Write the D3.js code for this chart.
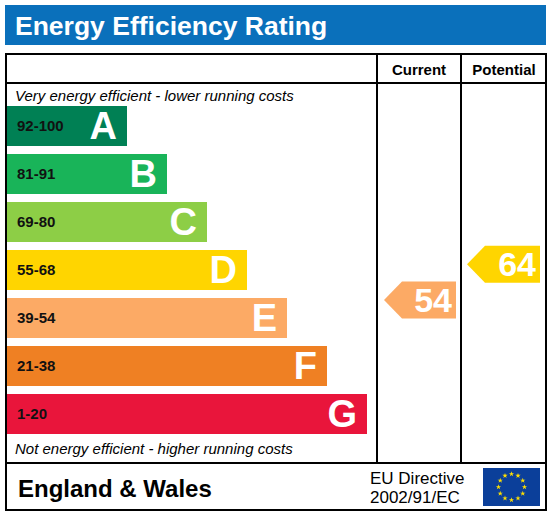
<!DOCTYPE html><html><head><meta charset="utf-8"><script src="https://cdn.jsdelivr.net/npm/d3@7"></script>
<style>body{margin:0;background:#fff}</style></head><body><svg id="c" width="550" height="517"></svg>
<script>
const bands=["A","B","C","D","E","F","G"];
const ranges=["92-100","81-91","69-80","55-68","39-54","21-38","1-20"];
const lows=[92,81,69,55,39,21,1];
const highs=[100,91,80,68,54,38,20];
const colors=["#008054","#19b459","#8dce46","#ffd500","#fcaa65","#ef8023","#e9153b"];
const currentValue=54, currentBand="E";
const potentialValue=64, potentialBand="D";
const svg=d3.select("#c");
const F="Liberation Sans, Arial, sans-serif";
svg.append("rect").attr("x",5).attr("y",5).attr("width",541).attr("height",40).attr("fill","#0a70bb");
svg.append("text").attr("x",15).attr("y",35).attr("fill","#fff").attr("font-family",F).attr("font-weight","bold").attr("font-size",26.5).text("Energy Efficiency Rating");
const g=svg.append("g").attr("stroke","#000").attr("stroke-width",2).attr("fill","none");
g.append("rect").attr("x",6).attr("y",54).attr("width",540).attr("height",456);
g.append("line").attr("x1",6).attr("x2",546).attr("y1",83).attr("y2",83);
g.append("line").attr("x1",6).attr("x2",546).attr("y1",463).attr("y2",463);
g.append("line").attr("x1",377).attr("x2",377).attr("y1",54).attr("y2",463);
g.append("line").attr("x1",461).attr("x2",461).attr("y1",54).attr("y2",463);
svg.append("text").attr("x",419).attr("y",75).attr("text-anchor","middle").attr("font-family",F).attr("font-weight","bold").attr("font-size",15).text("Current");
svg.append("text").attr("x",504).attr("y",75).attr("text-anchor","middle").attr("font-family",F).attr("font-weight","bold").attr("font-size",15).text("Potential");
svg.append("text").attr("x",15).attr("y",101).attr("font-family",F).attr("font-style","italic").attr("font-size",15).text("Very energy efficient - lower running costs");
svg.append("text").attr("x",15).attr("y",454).attr("font-family",F).attr("font-style","italic").attr("font-size",15).text("Not energy efficient - higher running costs");
const y=d3.scaleBand().domain(bands).range([106,434]).paddingInner(8/48).paddingOuter(0);
const w=d3.scaleLinear().domain([0,6]).range([120,360]);
bands.forEach((b,i)=>{
 svg.append("rect").attr("x",7).attr("y",y(b)).attr("width",w(i)).attr("height",y.bandwidth()).attr("fill",colors[i]);
 svg.append("text").attr("x",17).attr("y",y(b)+y.bandwidth()/2+5).attr("font-family",F).attr("font-weight","bold").attr("font-size",15).attr("fill","#111").text(ranges[i]);
 svg.append("text").attr("x",7+w(i)-10).attr("y",y(b)+y.bandwidth()/2+13).attr("text-anchor","end").attr("font-family",F).attr("font-weight","bold").attr("font-size",38).attr("fill","#fff").text(b);
});
function arrow(val,band,x0,x1){
 const i=bands.indexOf(band), h=37;
 const yc=y(band)+y.bandwidth()-(val-lows[i])/(highs[i]-lows[i])*y.bandwidth()+2, t=yc-h/2;
 svg.append("path").attr("d",`M${x0},${yc} L${x0+18},${t} L${x1},${t} L${x1},${t+h} L${x0+18},${t+h} Z`).attr("fill",colors[i]);
 svg.append("text").attr("x",x1-4).attr("y",yc+12).attr("text-anchor","end").attr("font-family",F).attr("font-weight","bold").attr("font-size",34).attr("fill","#fff").text(val);
}
arrow(currentValue,currentBand,384,456);
arrow(potentialValue,potentialBand,467,540);
svg.append("text").attr("x",18).attr("y",497).attr("font-family",F).attr("font-weight","bold").attr("font-size",24).text("England & Wales");
svg.append("text").attr("x",370).attr("y",484).attr("font-family",F).attr("font-size",17).text("EU Directive");
svg.append("text").attr("x",370).attr("y",503).attr("font-family",F).attr("font-size",17).text("2002/91/EC");
svg.append("rect").attr("x",483).attr("y",468).attr("width",57).attr("height",38).attr("fill","#0b3f9a");
const star=d3.symbol().type(d3.symbolStar).size(9);
for(let k=0;k<12;k++){const a=k*Math.PI/6;svg.append("path").attr("d",star()).attr("fill","#ffe000").attr("transform",`translate(${511.5+13*Math.sin(a)},${487-13*Math.cos(a)})`);}
</script></body></html>
